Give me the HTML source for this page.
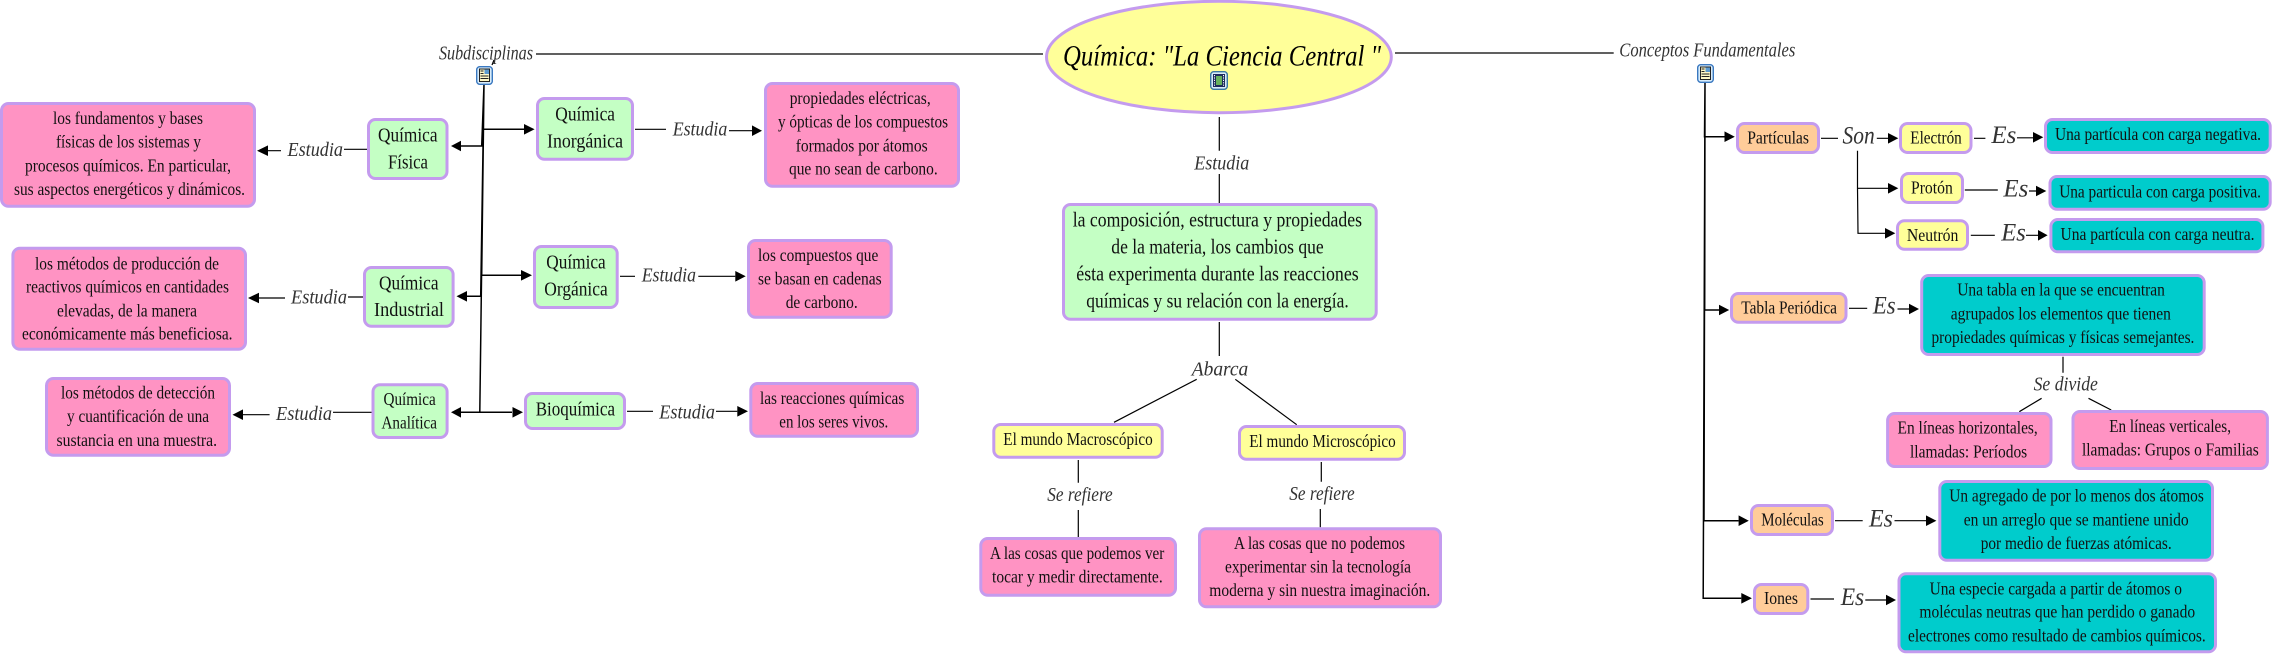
<!DOCTYPE html>
<html lang="es">
<head>
<meta charset="utf-8">
<title>Química: La Ciencia Central</title>
<style>
html,body{margin:0;padding:0;background:#fff}
svg{display:block}
.b{stroke:#c49bee;stroke-width:3}
.p{fill:#ff93c3}.g{fill:#c4ffc4}.y{fill:#ffff99}.o{fill:#ffcc99}.c{fill:#00cccc}
.l{fill:none;stroke:#000;stroke-width:1.2}
.s{fill:none;stroke:#000;stroke-width:1.5}
text{font-family:"Liberation Serif",serif;fill:#111;font-size:18px}
.f19 text,text.f19{font-size:20px}
.f20 text{font-size:21px}
.k{font-style:italic;font-size:20px;fill:#333}
.e{font-size:25px}
</style>
</head>
<body>
<svg xmlns="http://www.w3.org/2000/svg" width="2273" height="655" viewBox="0 0 2273 655">
<defs>
<g id="note"><rect x="0.7" y="0.7" width="15.6" height="17.6" rx="3" fill="#d8ecfa" stroke="#3a78c0" stroke-width="1.4"/><rect x="3.5" y="3" width="10" height="12.5" fill="#fff8c8" stroke="#222" stroke-width="1"/><rect x="8.5" y="3.5" width="4.5" height="4.5" fill="#5c9ad0"/><path d="M4.5 5h3M4.5 7.5h3M4.5 10h8M4.5 12.5h8" stroke="#222" stroke-width="1"/></g>
<g id="film"><rect x="0.7" y="0.7" width="16.6" height="17.6" rx="3" fill="#d8ecfa" stroke="#3a78a0" stroke-width="1.4"/><rect x="3" y="3" width="12" height="13" fill="#1d2c5c"/><rect x="6" y="5" width="6" height="9" fill="#66b35c"/><path d="M4.5 4v11M13.5 4v11" stroke="#fff" stroke-width="1" stroke-dasharray="1.2 1.2"/></g>
</defs>

<!-- Central ellipse -->
<ellipse cx="1218.9" cy="57" rx="172.4" ry="55.7" class="y b"/>
<text x="1063" y="65.7" textLength="318" lengthAdjust="spacingAndGlyphs" style="font-style:italic;font-size:30px;fill:#000">Química: "La Ciencia Central "</text>
<use href="#film" x="1210" y="71"/>

<!-- Connectors -->
<path class="l" d="M536 54H1043M1395 53H1613.7M492 65L494 60"/>
<path class="l" d="M1219.3 117V150.7M1219.3 174V203M1219.3 322V356M1196.7 379.3L1114 422.3M1235.3 379.3L1296.7 424.7M1078.3 460V482.7M1078.3 510V537.3M1321.3 462V481.7M1320.3 509V527.3"/>
<path class="s" d="M484 84L482.7 129.3H524M484 84L481.7 146H461M484 84L481.7 275.3H521M484 84L480.7 296.3H467M484 84L479.8 412.3H512M484 84L479.8 412.3H461"/>
<path class="l" d="M344 149.3H367M281 150.7H268M348 297H363M285 298H259M333 412.3H371.5M269.6 414.7H243"/>
<path class="l" d="M635 129.3H666M729 130.7H752M620 276.3H635M698.3 276.3H735.3M627 411.3H653M716 411.3H737.3"/>
<path class="s" d="M1705 82L1704.5 136.7H1724.5M1705 82L1704.7 310H1719M1705 82L1704 520.7H1738.6M1705 82L1703.2 598.3H1741.3"/>
<path class="l" d="M1821 138.3H1838M1876.8 138.3H1888M1974 138.3H1985.4M2017 137.8H2033M1857.5 150.7V188.3H1888M1857.5 188L1858 233.3H1885M1964.8 190H1997.8M2029 191H2036M1970.8 235.3H1994.8M2026 235.3H2038"/>
<path class="l" d="M1849 308.3H1867.2M1897.5 309H1909M2063 356.7V372.7M2041.6 398.3L2019.3 411.7M2088.5 398.3L2111.2 410M1835 520.7H1862.7M1894.5 520.7H1926M1810.5 599H1834M1865.3 600H1886"/>

<!-- Arrowheads -->
<g fill="#000">
<path d="M534.6 129.3L524 124V134.6ZM451 146L461 140.7V151.3ZM532 275.3L521 270V280.6ZM456.5 296.3L467 291V301.6ZM451 412.3L461 407V417.6ZM523 412.3L512.5 407V417.6Z"/>
<path d="M257 150.7L268 145.4V156ZM248 298L259 292.7V303.3ZM232.5 414.7L243 409.4V420Z"/>
<path d="M762 130.7L752 125.4V136ZM745.7 276.3L735.3 271V281.6ZM748 411.3L737.3 406V416.6Z"/>
<path d="M1734.8 136.7L1724.5 131.4V142ZM1898.3 138.3L1888 133V143.6ZM2043.3 137.3L2033 132V142.6ZM1898.3 188.3L1888 183V193.6ZM1895.3 233.3L1885 228V238.6ZM2046.3 191L2036 185.7V196.3ZM2047.6 235.3L2038 230V240.6Z"/>
<path d="M1729.2 310L1719 304.7V315.3ZM1919 309L1909 303.7V314.3ZM1748.8 520.7L1738.6 515.4V526ZM1936.4 520.7L1926 515.4V526ZM1751.9 598.3L1741.3 593V603.6ZM1896 600L1886 594.7V605.3Z"/>
</g>

<!-- Icons -->
<use href="#note" x="476" y="66"/>
<use href="#note" x="1697" y="64"/>

<!-- Boxes -->
<g class="b">
<rect class="p" x="1.5" y="103.5" width="253" height="102.7" rx="7"/>
<rect class="g" x="368.5" y="119.5" width="78.5" height="59" rx="7"/>
<rect class="g" x="364.5" y="267.5" width="88.6" height="58.7" rx="7"/>
<rect class="g" x="373" y="384.8" width="74.1" height="52.7" rx="7"/>
<rect class="p" x="12.9" y="248.2" width="232.6" height="101" rx="7"/>
<rect class="p" x="46.5" y="378.5" width="183" height="76.7" rx="7"/>
<rect class="g" x="537.5" y="98.5" width="95" height="60.7" rx="7"/>
<rect class="g" x="534.5" y="246.5" width="82.7" height="61" rx="7"/>
<rect class="g" x="525.5" y="393.5" width="99" height="35" rx="7"/>
<rect class="p" x="765.5" y="83.5" width="193" height="102.7" rx="7"/>
<rect class="p" x="748.5" y="240.5" width="142.7" height="76.7" rx="7"/>
<rect class="p" x="750.8" y="383.5" width="166.7" height="52.7" rx="7"/>
<rect class="g" x="1063.5" y="204.5" width="312.7" height="114.7" rx="7"/>
<rect class="y" x="993.8" y="424.5" width="168.4" height="32.7" rx="7"/>
<rect class="y" x="1239.5" y="426.5" width="165" height="32.7" rx="7"/>
<rect class="p" x="980.8" y="538.5" width="194.7" height="56.7" rx="7"/>
<rect class="p" x="1199.5" y="528.8" width="241" height="78" rx="7"/>
<rect class="o" x="1737.5" y="123.5" width="81" height="29" rx="7"/>
<rect class="y" x="1900.5" y="123.5" width="70.5" height="29" rx="7"/>
<rect class="y" x="1901.5" y="173.5" width="61" height="29" rx="7"/>
<rect class="y" x="1897.5" y="220.8" width="70" height="28.4" rx="7"/>
<rect class="c" x="2045.5" y="119.5" width="224.7" height="33" rx="7"/>
<rect class="c" x="2050" y="176.5" width="220.2" height="32.7" rx="7"/>
<rect class="c" x="2050.9" y="219.5" width="212" height="32.3" rx="7"/>
<rect class="o" x="1731.5" y="293.5" width="114.5" height="28.7" rx="7"/>
<rect class="c" x="1921.7" y="275.5" width="282.5" height="79" rx="7"/>
<rect class="p" x="1887.6" y="413.5" width="163.4" height="53" rx="7"/>
<rect class="p" x="2073" y="411.5" width="194.4" height="57" rx="7"/>
<rect class="o" x="1751.5" y="505.5" width="81" height="29" rx="7"/>
<rect class="c" x="1939.8" y="481.5" width="272.7" height="78.7" rx="7"/>
<rect class="o" x="1754.5" y="584.5" width="53.3" height="29" rx="7"/>
<rect class="c" x="1899" y="573.8" width="316.5" height="78" rx="7"/>
</g>

<!-- Script labels -->
<g>
<text class="k" x="439" y="59.3" textLength="94" lengthAdjust="spacingAndGlyphs">Subdisciplinas</text>
<text class="k" x="1619.3" y="56.7" textLength="176" lengthAdjust="spacingAndGlyphs">Conceptos Fundamentales</text>
<text class="k" x="287.5" y="156" textLength="55.5" lengthAdjust="spacingAndGlyphs">Estudia</text>
<text class="k" x="291" y="303.3" textLength="56" lengthAdjust="spacingAndGlyphs">Estudia</text>
<text class="k" x="276" y="420" textLength="56" lengthAdjust="spacingAndGlyphs">Estudia</text>
<text class="k" x="672.7" y="135.7" textLength="54.6" lengthAdjust="spacingAndGlyphs">Estudia</text>
<text class="k" x="641.7" y="281.7" textLength="54.3" lengthAdjust="spacingAndGlyphs">Estudia</text>
<text class="k" x="659.3" y="418.3" textLength="55.7" lengthAdjust="spacingAndGlyphs">Estudia</text>
<text class="k" x="1194.3" y="169.3" textLength="55" lengthAdjust="spacingAndGlyphs">Estudia</text>
<text class="k" x="1191.7" y="375.7" textLength="56.6" lengthAdjust="spacingAndGlyphs">Abarca</text>
<text class="k" x="1047.3" y="501" textLength="65.4" lengthAdjust="spacingAndGlyphs">Se refiere</text>
<text class="k" x="1289.3" y="500" textLength="65.4" lengthAdjust="spacingAndGlyphs">Se refiere</text>
<text class="k e" x="1842.5" y="143.3" textLength="32.2" lengthAdjust="spacingAndGlyphs">Son</text>
<text class="k e" x="1991.4" y="143" textLength="24.9" lengthAdjust="spacingAndGlyphs">Es</text>
<text class="k e" x="2003.4" y="196.7" textLength="24.9" lengthAdjust="spacingAndGlyphs">Es</text>
<text class="k e" x="2001.3" y="240.7" textLength="24.5" lengthAdjust="spacingAndGlyphs">Es</text>
<text class="k e" x="1872.9" y="313.3" textLength="22.7" lengthAdjust="spacingAndGlyphs">Es</text>
<text class="k" x="2033.6" y="390.7" textLength="64.3" lengthAdjust="spacingAndGlyphs">Se divide</text>
<text class="k e" x="1869" y="526.7" textLength="24" lengthAdjust="spacingAndGlyphs">Es</text>
<text class="k e" x="1840.7" y="605" textLength="23.5" lengthAdjust="spacingAndGlyphs">Es</text>
</g>

<!-- Pink / body text -->
<g>
<text x="53" y="124" textLength="150" lengthAdjust="spacingAndGlyphs">los fundamentos y bases</text>
<text x="56" y="147.7" textLength="145" lengthAdjust="spacingAndGlyphs">físicas de los sistemas y</text>
<text x="25" y="171.3" textLength="206" lengthAdjust="spacingAndGlyphs">procesos químicos. En particular,</text>
<text x="14" y="195" textLength="231" lengthAdjust="spacingAndGlyphs">sus aspectos energéticos y dinámicos.</text>
<text x="35" y="269.3" textLength="184" lengthAdjust="spacingAndGlyphs">los métodos de producción de</text>
<text x="26" y="292.3" textLength="203" lengthAdjust="spacingAndGlyphs">reactivos químicos en cantidades</text>
<text x="57" y="316.3" textLength="140" lengthAdjust="spacingAndGlyphs">elevadas, de la manera</text>
<text x="22" y="339.7" textLength="210.5" lengthAdjust="spacingAndGlyphs">económicamente más beneficiosa.</text>
<text x="61" y="398.7" textLength="154" lengthAdjust="spacingAndGlyphs">los métodos de detección</text>
<text x="67" y="422" textLength="142" lengthAdjust="spacingAndGlyphs">y cuantificación de una</text>
<text x="56.5" y="446" textLength="160.5" lengthAdjust="spacingAndGlyphs">sustancia en una muestra.</text>
<text x="789.7" y="104" textLength="141" lengthAdjust="spacingAndGlyphs">propiedades eléctricas,</text>
<text x="778" y="127.7" textLength="170" lengthAdjust="spacingAndGlyphs">y ópticas de los compuestos</text>
<text x="795.7" y="151.3" textLength="132" lengthAdjust="spacingAndGlyphs">formados por átomos</text>
<text x="789" y="174.7" textLength="148.7" lengthAdjust="spacingAndGlyphs">que no sean de carbono.</text>
<text x="758" y="261" textLength="120.3" lengthAdjust="spacingAndGlyphs">los compuestos que</text>
<text x="758" y="284.3" textLength="123.7" lengthAdjust="spacingAndGlyphs">se basan en cadenas</text>
<text x="785.7" y="308" textLength="72" lengthAdjust="spacingAndGlyphs">de carbono.</text>
<text x="760" y="404" textLength="144.3" lengthAdjust="spacingAndGlyphs">las reacciones químicas</text>
<text x="779.3" y="427.3" textLength="109" lengthAdjust="spacingAndGlyphs">en los seres vivos.</text>
<text x="1003.3" y="445" textLength="149.4" lengthAdjust="spacingAndGlyphs">El mundo Macroscópico</text>
<text x="1249.3" y="447" textLength="146.4" lengthAdjust="spacingAndGlyphs">El mundo Microscópico</text>
<text x="990" y="559" textLength="174.3" lengthAdjust="spacingAndGlyphs">A las cosas que podemos ver</text>
<text x="992" y="582.3" textLength="170.7" lengthAdjust="spacingAndGlyphs">tocar y medir directamente.</text>
<text x="1234" y="549" textLength="171" lengthAdjust="spacingAndGlyphs">A las cosas que no podemos</text>
<text x="1225" y="572.3" textLength="186" lengthAdjust="spacingAndGlyphs">experimentar sin la tecnología</text>
<text x="1209.3" y="596" textLength="221" lengthAdjust="spacingAndGlyphs">moderna y sin nuestra imaginación.</text>
<text x="1747.2" y="143.3" textLength="61.8" lengthAdjust="spacingAndGlyphs">Partículas</text>
<text x="1910.3" y="143.3" textLength="51.5" lengthAdjust="spacingAndGlyphs">Electrón</text>
<text x="1911" y="193.7" textLength="41.8" lengthAdjust="spacingAndGlyphs">Protón</text>
<text x="1906.9" y="241" textLength="51.5" lengthAdjust="spacingAndGlyphs">Neutrón</text>
<text x="2055" y="140" textLength="206" lengthAdjust="spacingAndGlyphs">Una partícula con carga negativa.</text>
<text x="2059.2" y="197.3" textLength="201.8" lengthAdjust="spacingAndGlyphs">Una particula con carga positiva.</text>
<text x="2060.5" y="240" textLength="194" lengthAdjust="spacingAndGlyphs">Una partícula con carga neutra.</text>
<text x="1741.3" y="313.3" textLength="95.7" lengthAdjust="spacingAndGlyphs">Tabla Periódica</text>
<text x="1957.2" y="295.7" textLength="207.7" lengthAdjust="spacingAndGlyphs">Una tabla en la que se encuentran</text>
<text x="1950.8" y="319.3" textLength="220.1" lengthAdjust="spacingAndGlyphs">agrupados los elementos que tienen</text>
<text x="1931.5" y="343" textLength="262.9" lengthAdjust="spacingAndGlyphs">propiedades químicas y físicas semejantes.</text>
<text x="1897.5" y="433.7" textLength="140.3" lengthAdjust="spacingAndGlyphs">En líneas horizontales,</text>
<text x="1910" y="457.3" textLength="117.2" lengthAdjust="spacingAndGlyphs">llamadas: Períodos</text>
<text x="2109.3" y="432" textLength="121.7" lengthAdjust="spacingAndGlyphs">En líneas verticales,</text>
<text x="2082" y="455.3" textLength="176.7" lengthAdjust="spacingAndGlyphs">llamadas: Grupos o Familias</text>
<text x="1761.3" y="525.7" textLength="62.4" lengthAdjust="spacingAndGlyphs">Moléculas</text>
<text x="1949.3" y="501.7" textLength="254.5" lengthAdjust="spacingAndGlyphs">Un agregado de por lo menos dos átomos</text>
<text x="1963.7" y="525.3" textLength="225" lengthAdjust="spacingAndGlyphs">en un arreglo que se mantiene unido</text>
<text x="1980.7" y="549" textLength="191" lengthAdjust="spacingAndGlyphs">por medio de fuerzas atómicas.</text>
<text x="1764" y="604" textLength="34" lengthAdjust="spacingAndGlyphs">Iones</text>
<text x="1929.6" y="594.3" textLength="252.3" lengthAdjust="spacingAndGlyphs">Una especie cargada a partir de átomos o</text>
<text x="1919.4" y="617.7" textLength="275.7" lengthAdjust="spacingAndGlyphs">moléculas neutras que han perdido o ganado</text>
<text x="1908" y="641.3" textLength="297.7" lengthAdjust="spacingAndGlyphs">electrones como resultado de cambios químicos.</text>
<text x="383.5" y="405" textLength="52.2" lengthAdjust="spacingAndGlyphs">Química</text>
<text x="381.5" y="428.3" textLength="55.5" lengthAdjust="spacingAndGlyphs">Analítica</text>
</g>

<!-- Larger box text -->
<g class="f19">
<text x="378" y="141.7" textLength="59.5" lengthAdjust="spacingAndGlyphs">Química</text>
<text x="388" y="168.3" textLength="40" lengthAdjust="spacingAndGlyphs">Física</text>
<text x="379" y="289.3" textLength="59.5" lengthAdjust="spacingAndGlyphs">Química</text>
<text x="374" y="316" textLength="70" lengthAdjust="spacingAndGlyphs">Industrial</text>
<text x="555.3" y="120.7" textLength="59.7" lengthAdjust="spacingAndGlyphs">Química</text>
<text x="547" y="147.3" textLength="76" lengthAdjust="spacingAndGlyphs">Inorgánica</text>
<text x="546.3" y="268.3" textLength="59.4" lengthAdjust="spacingAndGlyphs">Química</text>
<text x="544.3" y="295.3" textLength="63.4" lengthAdjust="spacingAndGlyphs">Orgánica</text>
<text x="535.7" y="415.3" textLength="79.3" lengthAdjust="spacingAndGlyphs">Bioquímica</text>
</g>
<g class="f20">
<text x="1072.7" y="226.7" textLength="289.3" lengthAdjust="spacingAndGlyphs">la composición, estructura y propiedades</text>
<text x="1111.3" y="253.7" textLength="212.4" lengthAdjust="spacingAndGlyphs">de la materia, los cambios que</text>
<text x="1076.3" y="280.7" textLength="282.4" lengthAdjust="spacingAndGlyphs">ésta experimenta durante las reacciones</text>
<text x="1086.3" y="307.7" textLength="262.4" lengthAdjust="spacingAndGlyphs">químicas y su relación con la energía.</text>
</g>
</svg>
</body>
</html>
